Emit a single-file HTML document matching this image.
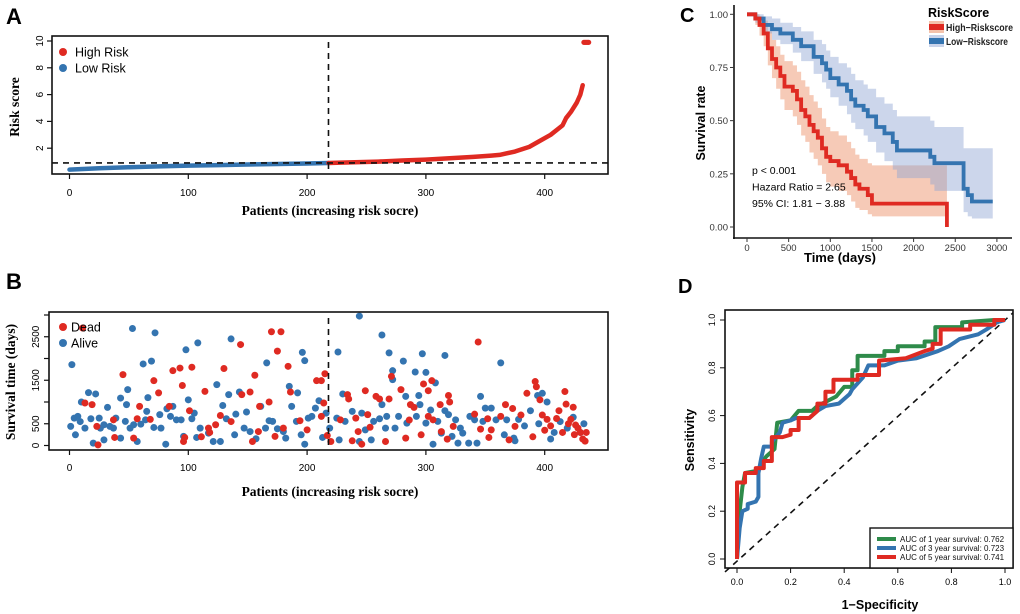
<!DOCTYPE html>
<html><head><meta charset="utf-8">
<style>
body{margin:0;background:#fff;}
svg{display:block;font-family:"Liberation Sans",Arial,sans-serif;}
.serif{font-family:"Liberation Serif","Times New Roman",serif;font-weight:bold;}
</style></head>
<body>
<svg id="fig" width="1020" height="614" viewBox="0 0 1020 614" xmlns="http://www.w3.org/2000/svg"></svg>
<script>
// ---------- Panel A data ----------
const riskPatients = [0,25,50,75,100,125,150,175,200,218,240,260,280,300,320,340,355,362,375,387,395,405,415,418,422,427,430,432];
const riskScores   = [0.4,0.5,0.58,0.64,0.7,0.74,0.78,0.82,0.86,0.9,0.95,1.0,1.08,1.15,1.25,1.35,1.45,1.5,1.75,2.1,2.5,3.0,3.7,4.25,4.7,5.4,6.0,6.7];
const riskOutPatients = [433,434,435,436,437];
const riskOutScores = [9.9,9.9,9.9,9.9,9.9];
const riskCutPatient = 218;
const riskCutScore = 0.9;
const aXTicks = [0,100,200,300,400];
const aYTicks = [2,4,6,8,10];

// ---------- Panel B data ----------
const deadPoints = [[11,2700],[13,977],[19,940],[23,440],[24,15],[38,185],[37,590],[45,1630],[54,170],[57,615],[59,900],[68,600],[71,1490],[75,1210],[84,900],[87,1720],[93,1780],[95,1380],[96,92],[97,185],[101,800],[103,1800],[111,200],[114,1245],[117,400],[118,300],[123,477],[127,690],[130,1770],[136,550],[144,2320],[145,1170],[152,1230],[154,92],[156,1615],[159,320],[160,900],[168,1000],[170,2615],[173,210],[175,2170],[178,2615],[180,400],[184,1820],[186,1230],[194,570],[200,360],[208,1490],[212,1490],[212,670],[214,977],[215,1650],[217,230],[220,92],[228,590],[234,1170],[235,1070],[238,108],[241,630],[243,320],[246,30],[249,1260],[251,710],[253,420],[258,1130],[261,1070],[266,92],[269,1070],[271,1590],[279,1285],[283,170],[286,585],[287,940],[290,877],[296,246],[298,1415],[302,670],[302,1260],[305,1490],[306,590],[312,940],[313,320],[318,146],[319,1150],[320,1000],[323,440],[341,720],[344,2380],[346,377],[352,615],[353,185],[355,360],[363,670],[367,940],[370,130],[373,850],[375,440],[380,700],[385,1200],[392,1470],[393,1350],[396,1050],[398,700],[402,600],[405,450],[410,620],[412,800],[415,300],[417,1240],[418,950],[420,500],[422,600],[425,250],[428,400],[430,300],[432,150],[434,100],[435,300],[390,200],[400,350],[426,470],[424,880]];
const alivePoints = [[2,1860],[1,440],[4,630],[5,246],[7,670],[9,550],[10,1000],[13,400],[16,1215],[18,615],[20,54],[22,1185],[25,630],[26,400],[29,477],[29,130],[32,877],[34,440],[37,400],[39,630],[43,170],[43,1090],[47,554],[48,940],[49,1285],[51,400],[53,2690],[54,477],[57,92],[60,490],[62,1875],[64,590],[65,785],[66,1100],[69,1940],[72,2590],[71,415],[76,710],[77,400],[81,30],[82,845],[85,670],[87,900],[90,590],[94,590],[96,210],[98,2200],[100,1050],[103,615],[105,745],[108,2360],[107,185],[110,400],[117,285],[121,92],[124,1400],[127,92],[129,920],[132,615],[134,1170],[136,2450],[139,246],[140,720],[143,1230],[147,400],[149,770],[152,320],[157,155],[161,900],[165,400],[166,1900],[168,570],[171,554],[175,385],[180,320],[182,170],[185,1360],[187,900],[191,554],[192,1210],[195,246],[196,2140],[198,1950],[198,30],[201,630],[204,670],[207,860],[210,1030],[213,185],[216,745],[219,400],[226,2150],[225,630],[227,130],[230,1185],[232,554],[238,785],[244,2975],[244,92],[246,745],[249,360],[254,130],[256,554],[261,615],[263,940],[263,2540],[266,400],[267,670],[269,2130],[272,1515],[272,1720],[274,400],[277,670],[281,1940],[283,1130],[284,515],[291,1690],[292,670],[294,1150],[295,940],[297,2110],[300,515],[300,1680],[304,815],[306,30],[308,1440],[310,554],[313,285],[316,800],[316,2070],[319,710],[322,210],[325,590],[327,54],[329,400],[331,285],[336,54],[337,670],[341,590],[343,54],[346,1130],[348,554],[350,860],[355,860],[359,590],[363,1900],[366,246],[368,590],[374,170],[375,108],[378,600],[383,450],[388,800],[395,500],[394,1150],[398,1200],[402,1000],[405,150],[408,300],[413,550],[419,400],[424,650],[430,300],[433,500]];
const bCutPatient = 218;
const bXTicks = [0,100,200,300,400];
const bYTicks = [0,500,1000,1500,2000,2500,3000];
const bYLabels = ["0","500","1500","2500"];

// ---------- Panel C data ----------
const highTimes = [0,100,150,200,250,300,350,400,450,550,600,650,700,750,800,850,900,950,1000,1100,1200,1250,1300,1350,1450,1500,2400];
const highSurv  = [1,0.98,0.95,0.91,0.84,0.79,0.75,0.71,0.66,0.64,0.60,0.55,0.52,0.48,0.45,0.42,0.37,0.33,0.31,0.29,0.26,0.23,0.20,0.18,0.15,0.11,0];
const highUpper = [1,1,0.99,0.97,0.92,0.88,0.85,0.81,0.78,0.76,0.73,0.69,0.66,0.62,0.59,0.56,0.51,0.47,0.45,0.43,0.40,0.37,0.34,0.32,0.30,0.29,0.29];
const highLower = [1,0.95,0.9,0.85,0.76,0.70,0.65,0.60,0.55,0.52,0.48,0.43,0.40,0.35,0.32,0.29,0.25,0.21,0.19,0.17,0.15,0.12,0.09,0.08,0.06,0.05,0.05];
const lowTimes = [0,100,200,300,400,550,650,800,900,950,1000,1100,1200,1250,1300,1400,1450,1550,1650,1750,1800,2200,2250,2600,2650,2700,2950];
const lowSurv  = [1,0.98,0.95,0.93,0.91,0.88,0.85,0.80,0.77,0.74,0.70,0.67,0.64,0.60,0.57,0.55,0.52,0.47,0.44,0.40,0.36,0.33,0.30,0.18,0.15,0.12,0.12];
const lowUpper = [1,1,0.99,0.98,0.96,0.94,0.92,0.88,0.86,0.83,0.80,0.77,0.75,0.72,0.69,0.67,0.65,0.61,0.58,0.55,0.52,0.50,0.47,0.37,0.37,0.37,0.37];
const lowLower = [1,0.96,0.91,0.88,0.86,0.82,0.78,0.72,0.68,0.65,0.61,0.57,0.53,0.49,0.46,0.43,0.40,0.35,0.31,0.27,0.23,0.20,0.17,0.07,0.05,0.04,0.04];
const cXTicks = [0,500,1000,1500,2000,2500,3000];
const cYTicks = [0,0.25,0.5,0.75,1.0];
const cYLabels = ["0.00","0.25","0.50","0.75","1.00"];

// ---------- Panel D data ----------
const roc1Fpr = [0,0.01,0.02,0.03,0.08,0.09,0.11,0.14,0.15,0.2,0.23,0.28,0.3,0.37,0.4,0.43,0.43,0.45,0.45,0.55,0.55,0.6,0.6,0.7,0.7,0.74,0.74,0.84,0.84,0.96,1];
const roc1Tpr = [0,0.2,0.3,0.36,0.37,0.4,0.43,0.46,0.57,0.58,0.62,0.62,0.64,0.68,0.72,0.72,0.79,0.79,0.85,0.85,0.87,0.87,0.89,0.89,0.91,0.91,0.97,0.97,0.99,1,1];
const roc3Fpr = [0,0.01,0.02,0.04,0.04,0.07,0.08,0.08,0.09,0.1,0.13,0.13,0.16,0.17,0.2,0.22,0.27,0.3,0.33,0.38,0.42,0.43,0.47,0.49,0.55,0.6,0.67,0.75,0.79,0.83,0.9,0.93,0.97,1];
const roc3Tpr = [0,0.13,0.2,0.21,0.23,0.24,0.26,0.36,0.42,0.47,0.47,0.49,0.53,0.57,0.58,0.59,0.59,0.62,0.64,0.65,0.69,0.71,0.76,0.81,0.81,0.83,0.84,0.87,0.89,0.92,0.94,0.96,0.99,1];
const roc5Fpr = [0,0,0.03,0.03,0.07,0.07,0.1,0.1,0.13,0.13,0.17,0.2,0.2,0.23,0.23,0.27,0.3,0.3,0.33,0.33,0.36,0.36,0.45,0.45,0.53,0.53,0.63,0.7,0.73,0.73,0.76,0.76,0.87,0.87,0.96,0.96,1];
const roc5Tpr = [0,0.32,0.32,0.36,0.36,0.38,0.38,0.41,0.41,0.51,0.51,0.52,0.54,0.54,0.59,0.59,0.62,0.65,0.65,0.70,0.70,0.75,0.75,0.77,0.77,0.83,0.84,0.87,0.88,0.90,0.90,0.96,0.96,0.98,0.98,1,1];
const aucLabels = ["AUC of 1 year survival:  0.762","AUC of 3 year survival:  0.723","AUC of 5 year survival:  0.741"];
const dTicks = [0,0.2,0.4,0.6,0.8,1.0];

const NS="http://www.w3.org/2000/svg";
const svg=document.getElementById('fig');
function el(tag,attrs,parent,text){const e=document.createElementNS(NS,tag);for(const k in attrs)e.setAttribute(k,attrs[k]);if(text!==undefined)e.textContent=text;(parent||svg).appendChild(e);return e;}
function grp(name){const g=el('g',{});return g;}

const RED="#df2a22", BLUE="#3474b0", GREEN="#2e8b4a";

// ===== Panel A =====
{
const g=grp('panel-a');
const t=el('text',{x:6,y:24,'font-size':22,'font-weight':'bold'},g,'A');

const L=52,R=608,T=36,B=174;
const xs=p=>69.5+1.188*p, ys=v=>175-13.4*v;
const lowPts=[],highPts=[];
riskPatients.forEach((p,i)=>{const pt=xs(p)+','+ys(riskScores[i]);if(p<=riskCutPatient)lowPts.push(pt);if(p>=riskCutPatient)highPts.push(pt);});
const cl=el('polyline',{points:lowPts.join(' '),fill:'none',stroke:BLUE,'stroke-width':4.5,'stroke-linecap':'round','stroke-linejoin':'round'},g);

const ch=el('polyline',{points:highPts.join(' '),fill:'none',stroke:RED,'stroke-width':4.5,'stroke-linecap':'round','stroke-linejoin':'round'},g);

riskOutPatients.forEach((p,i)=>{const c=el('circle',{cx:xs(p),cy:ys(riskOutScores[i]),r:2.6,fill:RED},g);
});
const dh=el('line',{x1:L,x2:R,y1:ys(riskCutScore),y2:ys(riskCutScore),stroke:'#111','stroke-width':1.6,'stroke-dasharray':'6,5'},g);

const dv=el('line',{x1:xs(riskCutPatient),x2:xs(riskCutPatient),y1:T+6,y2:B,stroke:'#111','stroke-width':1.6,'stroke-dasharray':'6,5'},g);

const box=el('rect',{x:L,y:T,width:R-L,height:B-T,fill:'none',stroke:'#111','stroke-width':1.6},g);

aXTicks.forEach(v=>{el('line',{x1:xs(v),x2:xs(v),y1:B,y2:B+5,stroke:'#111','stroke-width':1.2},g);
const tl=el('text',{x:xs(v),y:B+22,'font-size':10,'text-anchor':'middle'},g,String(v));
});
aYTicks.forEach(v=>{el('line',{x1:L,x2:L-5,y1:ys(v),y2:ys(v),stroke:'#111','stroke-width':1.2},g);
const tl=el('text',{x:L-9,y:ys(v),'font-size':10,'text-anchor':'middle',transform:`rotate(-90 ${L-9} ${ys(v)})`},g,String(v));
});
const xt=el('text',{x:330,y:215,'font-size':13.5,'text-anchor':'middle',class:'serif'},g,'Patients (increasing risk socre)');

const yt=el('text',{x:19,y:107,'font-size':13.5,'text-anchor':'middle',class:'serif',transform:'rotate(-90 19 107)'},g,'Risk score');

[[RED,'High Risk',52],[BLUE,'Low Risk',68]].forEach(([c,s,y])=>{
const lg=el('g',{},g);
el('circle',{cx:63,cy:y,r:4,fill:c},lg);el('text',{x:75,y:y+4.5,'font-size':12.5},lg,s);});
}

// ===== Panel B =====
{
const g=grp('panel-b');
const t=el('text',{x:6,y:289,'font-size':22,'font-weight':'bold'},g,'B');

const L=49,R=608,T=312,B=450;
const xs=p=>69.5+1.188*p, ys=d=>445.5-0.0435*d;
alivePoints.forEach(([p,d])=>{const c=el('circle',{cx:xs(p),cy:ys(d),r:3.5,fill:BLUE},g);
});
deadPoints.forEach(([p,d])=>{const c=el('circle',{cx:xs(p),cy:ys(d),r:3.5,fill:RED},g);
});
const dv=el('line',{x1:xs(bCutPatient),x2:xs(bCutPatient),y1:318,y2:B,stroke:'#111','stroke-width':1.6,'stroke-dasharray':'6,5'},g);

const box=el('rect',{x:L,y:T,width:R-L,height:B-T,fill:'none',stroke:'#111','stroke-width':1.6},g);

bXTicks.forEach(v=>{el('line',{x1:xs(v),x2:xs(v),y1:B,y2:B+5,stroke:'#111','stroke-width':1.2},g);
const tl=el('text',{x:xs(v),y:B+21,'font-size':10,'text-anchor':'middle'},g,String(v));
});
bYTicks.forEach(v=>{el('line',{x1:L,x2:L-5,y1:ys(v),y2:ys(v),stroke:'#111','stroke-width':1.2},g);});
bYLabels.forEach(s=>{const v=Number(s);
const tl=el('text',{x:L-10,y:ys(v),'font-size':10,'text-anchor':'middle',transform:`rotate(-90 ${L-10} ${ys(v)})`},g,s);
});
const xt=el('text',{x:330,y:496,'font-size':13.5,'text-anchor':'middle',class:'serif'},g,'Patients (increasing risk socre)');

const yt=el('text',{x:15,y:382,'font-size':13.5,'text-anchor':'middle',class:'serif',transform:'rotate(-90 15 382)'},g,'Survival time (days)');

[[RED,'Dead',327],[BLUE,'Alive',343]].forEach(([c,s,y])=>{
const lg=el('g',{},g);
el('circle',{cx:63,cy:y,r:4,fill:c},lg);el('text',{x:71,y:y+4.5,'font-size':12.5},lg,s);});
}

// ===== Panel C =====
{
const g=grp('panel-c');
const t=el('text',{x:680,y:22,'font-size':20,'font-weight':'bold'},g,'C');

const xs=d=>747+0.0833*d, ys=s=>227-212.7*s;
function stepPath(ts,vs){let d=`M${xs(ts[0])},${ys(vs[0])}`;for(let i=1;i<ts.length;i++){d+=` H${xs(ts[i])} V${ys(vs[i])}`;}return d;}
function band(ts,up,lo,end){let d=`M${xs(ts[0])},${ys(up[0])}`;for(let i=1;i<ts.length;i++)d+=` H${xs(ts[i])} V${ys(up[i])}`;
d+=` H${xs(end)} V${ys(lo[lo.length-1])}`;for(let i=ts.length-1;i>0;i--)d+=` H${xs(ts[i])} V${ys(lo[i-1])}`;d+=` H${xs(ts[0])} Z`;return d;}
const hb=el('path',{d:band(highTimes.slice(0,-1),highUpper.slice(0,-1),highLower.slice(0,-1),highTimes[highTimes.length-1]),fill:'#eb8a60','fill-opacity':0.45},g);

const lb=el('path',{d:band(lowTimes,lowUpper,lowLower,lowTimes[lowTimes.length-1]),fill:'#8ea4d2','fill-opacity':0.45},g);

const ll=el('path',{d:stepPath(lowTimes,lowSurv),fill:'none',stroke:BLUE,'stroke-width':3.8},g);

const hl=el('path',{d:stepPath(highTimes,highSurv),fill:'none',stroke:RED,'stroke-width':3.8},g);

const ya=el('line',{x1:734,x2:734,y1:5,y2:239,stroke:'#111','stroke-width':1.6},g);

const xa=el('line',{x1:733,x2:1012,y1:238,y2:238,stroke:'#111','stroke-width':1.6},g);

cXTicks.forEach(v=>{el('line',{x1:xs(v),x2:xs(v),y1:238,y2:242,stroke:'#333','stroke-width':1},g);
const tl=el('text',{x:xs(v),y:251,'font-size':9.5,'text-anchor':'middle',fill:'#333'},g,String(v));
});
cYTicks.forEach((v,i)=>{el('line',{x1:734,x2:730,y1:ys(v),y2:ys(v),stroke:'#333','stroke-width':1},g);
const tl=el('text',{x:728,y:ys(v)+3.5,'font-size':9.5,'text-anchor':'end',fill:'#333'},g,cYLabels[i]);
});
const xt=el('text',{x:840,y:262,'font-size':13,'font-weight':'bold','text-anchor':'middle'},g,'Time (days)');

const yt=el('text',{x:705,y:123,'font-size':12.5,'font-weight':'bold','text-anchor':'middle',transform:'rotate(-90 705 123)'},g,'Survival rate');

['p < 0.001','Hazard Ratio = 2.65','95% CI: 1.81 − 3.88'].forEach((s,i)=>{const a=el('text',{x:752,y:174+i*16.5,'font-size':10.5},g,s);
});
const lt=el('text',{x:928,y:17,'font-size':12.5,'font-weight':'bold'},g,'RiskScore');

[[RED,'#f4c2ab','High−Riskscore',27,67],[BLUE,'#c9d3ea','Low−Riskscore',41,62]].forEach(([c,f,s,y,w])=>{
const lg=el('g',{},g);
el('rect',{x:929,y:y-6,width:15,height:12,fill:f},lg);el('rect',{x:929,y:y-3,width:15,height:6,fill:c},lg);
el('text',{x:946,y:y+4,'font-size':10,'font-weight':'bold','fill':'#222',textLength:w,lengthAdjust:'spacingAndGlyphs'},lg,s);});
}

// ===== Panel D =====
{
const g=grp('panel-d');
const t=el('text',{x:678,y:293,'font-size':20,'font-weight':'bold'},g,'D');

const L=725,R=1013,T=310,B=568;
const xs=v=>737+268*v, ys=v=>559-239*v;
const dg=el('line',{x1:L,y1:ys(-0.05)+1,x2:xs(1.03),y2:ys(1.03),stroke:'#111','stroke-width':1.6,'stroke-dasharray':'6,5'},g);

[[roc1Fpr,roc1Tpr,GREEN,'roc-1-year'],[roc3Fpr,roc3Tpr,BLUE,'roc-3-year'],[roc5Fpr,roc5Tpr,RED,'roc-5-year']].forEach(([f,tp,c,n])=>{
const pts=f.map((v,i)=>xs(v)+','+ys(tp[i])).join(' ');
const p=el('polyline',{points:pts,fill:'none',stroke:c,'stroke-width':4,'stroke-linejoin':'round'},g);
});
const box=el('rect',{x:L,y:T,width:R-L,height:B-T,fill:'none',stroke:'#111','stroke-width':1.6},g);

dTicks.forEach(v=>{el('line',{x1:xs(v),x2:xs(v),y1:B,y2:B+5,stroke:'#111','stroke-width':1},g);
const tl=el('text',{x:xs(v),y:B+17,'font-size':9,'text-anchor':'middle'},g,v.toFixed(1));

el('line',{x1:L,x2:L-5,y1:ys(v),y2:ys(v),stroke:'#111','stroke-width':1},g);
const yl=el('text',{x:L-10,y:ys(v),'font-size':9,'text-anchor':'middle',transform:`rotate(-90 ${L-10} ${ys(v)})`},g,v.toFixed(1));
});
const xt=el('text',{x:880,y:609,'font-size':12.5,'font-weight':'bold','text-anchor':'middle'},g,'1−Specificity');

const yt=el('text',{x:694,y:440,'font-size':12.5,'font-weight':'bold','text-anchor':'middle',transform:'rotate(-90 694 440)'},g,'Sensitivity');

const lgb=el('rect',{x:870,y:528,width:R-870,height:B-528,fill:'#fff',stroke:'#111','stroke-width':1.4},g);

[GREEN,BLUE,RED].forEach((c,i)=>{const y=539+i*9;
const lg=el('g',{},g);
el('line',{x1:877,x2:896,y1:y,y2:y,stroke:c,'stroke-width':4},lg);
el('text',{x:900,y:y+3,'font-size':8,fill:'#111'},lg,aucLabels[i]);});
}
</script>
</body></html>
